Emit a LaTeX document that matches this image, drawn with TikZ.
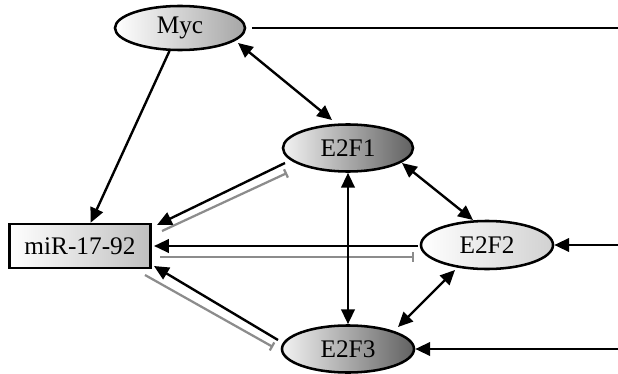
\documentclass[tikz,border=0pt]{standalone}
\usepackage{fontspec}
\setmainfont{Liberation Serif}
\usetikzlibrary{shapes.geometric,arrows.meta,calc}

\begin{document}
\begin{tikzpicture}[x=0.025cm,y=-0.025cm,
	font=\fontsize{18}{20}\selectfont,
	gene/.style={shape=ellipse,draw=black,line width=1.8pt,minimum width=3.3cm,minimum height=1.175cm,inner sep=0pt,shading=axis,shading angle=90},
	light/.style={gene,left color=white,right color=black!25},
	dark/.style={gene,left color=black!5,right color=black!62},
	act/.style={-{Triangle[length=10.5pt,width=9.5pt]},line width=1.7pt,black},
	dact/.style={{Triangle[length=10.5pt,width=9.5pt]}-{Triangle[length=10.5pt,width=9.5pt]},line width=1.7pt,black},
	inh/.style={-{Bar[width=6.5pt]},line width=1.6pt,black!45}]
	\useasboundingbox (0,0) rectangle (618,374);
	%% Nodes
	\node (myc)  [light,minimum width=3.25cm,minimum height=1.1cm,right color=black!35] at (180,28) {Myc};
	\node (e2f1) [dark,minimum width=3.25cm] at (348,148) {E2F1};
	\node (e2f2) [light,minimum height=1.2cm,right color=black!18] at (487,245) {E2F2};
	\node (e2f3) [dark] at (348,349) {E2F3};
	\node (mir)  [shape=rectangle,draw=black,line width=1.8pt,minimum width=3.525cm,minimum height=1.1cm,
	              left color=white,right color=black!25] at (80,246) {miR-17-92};
	
	%% Loose ends at the right margin
	\coordinate (outMyc)  at (618,28);
	\coordinate (inE2F2) at (618,245);
	\coordinate (inE2F3) at (618,349);
	
	%% Myc
	\draw[act] (myc) -- (mir);
	\draw[dact] ($(myc)+(58,15)$) -- ($(e2f1)+(-16,-28)$);
	\draw[line width=1.7pt] ([xshift=4]myc.east) -- (outMyc);
	
	%% E2F family to miR-17-92 and back
	\draw[act] ($(e2f1)+(-63,15)$) -- ($(mir)+(77,-21)$);
	\draw[inh] ($(mir)+(82,-15)$) -- ($(e2f1)+(-61,25)$);
	\draw[act] ($(e2f2)+(-69,1)$) -- ($(mir)+(74,0)$);
	\draw[inh] ($(mir)+(80,11)$) -- ($(e2f2)+(-73,12)$);
	\draw[act] ($(e2f3)+(-70,-9)$) -- ($(mir)+(74,20)$);
	\draw[inh] ($(mir)+(65,29)$) -- ($(e2f3)+(-75,-2)$);
	
	%% E2F1, E2F2, E2F3
	\draw[dact] (e2f1) -- (e2f3);
	\draw[dact] ($(e2f1)+(54,15)$) -- ($(e2f2)+(-14,-25)$);
	\draw[dact] ($(e2f2)+(-32,25)$) -- ($(e2f3)+(50,-22)$);
	
	%% input from the right
	\draw[act] (inE2F2) -- (e2f2);
	\draw[act] (inE2F3) -- (e2f3);
\end{tikzpicture}
\end{document}
